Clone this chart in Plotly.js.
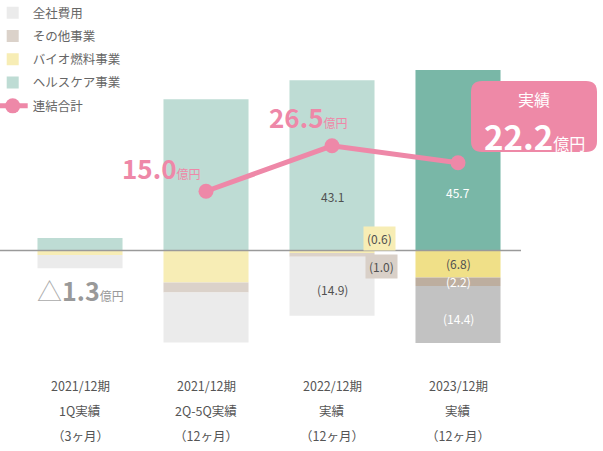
<!DOCTYPE html>
<html><head><meta charset="utf-8">
<script src="https://cdn.plot.ly/plotly-3.0.1.min.js"></script>
<style>html,body{margin:0;padding:0;background:#fff}#chart{width:603px;height:451px}</style>
</head><body><div id="chart"></div>
<script>
// ---- data ----
const categories = ['2021/12期 1Q実績', '2021/12期 2Q-5Q実績', '2022/12期 実績', '2023/12期 実績'];
const periodLabels = ['2021/12期', '2021/12期', '2022/12期', '2023/12期'];
const basisLabels = ['1Q実績', '2Q-5Q実績', '実績', '実績'];
const monthLabels = ['（3ヶ月）', '（12ヶ月）', '（12ヶ月）', '（12ヶ月）'];
const healthcare = [3.2, 38.3, 43.1, 45.7];
const biofuel = [-1.1, -8.1, -0.6, -6.8];
const otherBiz = [0, -2.5, -1.0, -2.2];
const corporate = [-3.4, -12.7, -14.9, -14.4];
const consolidated = [-1.3, 15.0, 26.5, 22.2];
const seriesNames = ['全社費用', 'その他事業', 'バイオ燃料事業', 'ヘルスケア事業', '連結合計'];

// ---- styles ----
const FONT = '"Noto Sans CJK JP", "Noto Sans", sans-serif';
const healthColors = ['#BEDCD4', '#BEDCD4', '#BEDCD4', '#79B7A7'];
const bioColors = ['#F7EDB5', '#F7EDB5', '#F7EDB5', '#F0E088'];
const otherColors = ['#DBD2CA', '#DBD2CA', '#DBD2CA', '#BDAE9F'];
const corpColors = ['#EBEBEB', '#EBEBEB', '#EBEBEB', '#C2C2C2'];
const PINK = '#EE88A8';

function bar(name, vals, colors, rank) {
  return {type: 'bar', x: categories, y: vals, name: name, legendrank: rank,
    legendgroup: name, marker: {color: colors, line: {width: 0}}, hoverinfo: 'none'};
}
const traces = [
  bar(seriesNames[3], healthcare, healthColors, 4),
  bar(seriesNames[2], biofuel, bioColors, 3),
  bar(seriesNames[1], otherBiz, otherColors, 2),
  bar(seriesNames[0], corporate, corpColors, 1),
  {type: 'scatter', mode: 'lines+markers', x: categories.slice(1), y: consolidated.slice(1),
   name: seriesNames[4], legendrank: 5, legendgroup: 'line',
   line: {color: PINK, width: 5}, marker: {color: PINK, size: 15}, hoverinfo: 'none'}
];

const fmtNeg = v => '(' + Math.abs(v).toFixed(1) + ')';
const ann = [];
// x axis labels (three lines)
categories.forEach((c, i) => {
  [periodLabels[i], basisLabels[i], monthLabels[i]].forEach((t, k) => {
    ann.push({x: c, y: 0, xref: 'x', yref: 'paper', yanchor: 'middle', yshift: -25 - 25 * k,
      text: t, showarrow: false, font: {family: FONT, size: 12.5, color: '#555'}});
  });
});
// value labels on bars 3 and 4
const darkTxt = '#505050';
ann.push({x: categories[2], y: healthcare[2] * 0.32, text: healthcare[2].toFixed(1), showarrow: false,
  font: {family: FONT, size: 12, color: darkTxt}});
ann.push({x: categories[3], y: healthcare[3] * 0.32, text: healthcare[3].toFixed(1), showarrow: false,
  font: {family: FONT, size: 12, color: '#fff'}});
// bar 3 negatives
ann.push({x: categories[2], y: biofuel[2] + otherBiz[2] + corporate[2] / 2 - 0.8, text: fmtNeg(corporate[2]), showarrow: false,
  font: {family: FONT, size: 12, color: darkTxt}});
ann.push({x: categories[2], y: 0, yshift: 12, xshift: 47, text: fmtNeg(biofuel[2]), showarrow: false,
  bgcolor: '#F7EDB5', borderpad: 3, font: {family: FONT, size: 12, color: darkTxt}});
ann.push({x: categories[2], y: 0, yshift: -16, xshift: 49, text: fmtNeg(otherBiz[2]), showarrow: false,
  bgcolor: '#D9D0C8', borderpad: 3, font: {family: FONT, size: 12, color: darkTxt}});
// bar 4 negatives
ann.push({x: categories[3], y: biofuel[3] / 2, text: fmtNeg(biofuel[3]), showarrow: false,
  font: {family: FONT, size: 12, color: darkTxt}});
ann.push({x: categories[3], y: biofuel[3] + otherBiz[3] / 2, text: fmtNeg(otherBiz[3]), showarrow: false,
  font: {family: FONT, size: 12, color: '#fff'}});
ann.push({x: categories[3], y: biofuel[3] + otherBiz[3] + corporate[3] / 2 - 1, text: fmtNeg(corporate[3]), showarrow: false,
  font: {family: FONT, size: 12, color: '#fff'}});
// total labels
const unit = () => '<span style="font-size:12px">億円</span>';
ann.push({x: categories[0], y: consolidated[0], yshift: -34, showarrow: false,
  text: '<span style="font-weight:300;color:#aaa">△</span><b>' + Math.abs(consolidated[0]).toFixed(1) + '</b>' + unit(),
  font: {family: FONT, size: 25, color: '#999'}});
ann.push({x: categories[1], y: consolidated[1], xshift: -45, yshift: 24, showarrow: false,
  text: '<b>' + consolidated[1].toFixed(1) + '</b>' + unit(), font: {family: FONT, size: 26, color: PINK}});
ann.push({x: categories[2], y: consolidated[2], xshift: -24, yshift: 29, showarrow: false,
  text: '<b>' + consolidated[2].toFixed(1) + '</b>' + unit(), font: {family: FONT, size: 26, color: PINK}});
// callout text
ann.push({x: categories[3], y: consolidated[3], xshift: 76, yshift: 64, showarrow: false,
  text: '実績', font: {family: FONT, size: 16, color: '#fff'}});
ann.push({x: categories[3], y: consolidated[3], xshift: 76, yshift: 27, showarrow: false,
  text: '<b>' + consolidated[3].toFixed(1) + '</b><span style="font-size:16px">億円</span>',
  font: {family: FONT, size: 33, color: '#fff'}});

// rounded callout box in paper coords
const W = 521, H = 360;
function roundRect(x0, y0, x1, y1, r) {
  const X = px => (px / W).toFixed(4), Y = py => (1 - py / H).toFixed(4);
  return `M${X(x0 + r)},${Y(y0)} L${X(x1 - r)},${Y(y0)} Q${X(x1)},${Y(y0)} ${X(x1)},${Y(y0 + r)} ` +
    `L${X(x1)},${Y(y1 - r)} Q${X(x1)},${Y(y1)} ${X(x1 - r)},${Y(y1)} L${X(x0 + r)},${Y(y1)} ` +
    `Q${X(x0)},${Y(y1)} ${X(x0)},${Y(y1 - r)} L${X(x0)},${Y(y0 + r)} Q${X(x0)},${Y(y0)} ${X(x0 + r)},${Y(y0)} Z`;
}
const shapes = [
  {type: 'line', xref: 'paper', yref: 'y', x0: 0, x1: 1, y0: 0, y1: 0, layer: 'above',
   line: {color: '#9a9a9a', width: 1.5}},
  {type: 'path', xref: 'paper', yref: 'paper', path: roundRect(471, 81, 597, 152, 11),
   fillcolor: '#EE89A7', line: {width: 0}, layer: 'above'}
];

const layout = {
  width: 603, height: 451,
  margin: {l: 0, r: 82, t: 0, b: 91, autoexpand: false},
  paper_bgcolor: '#fff', plot_bgcolor: '#fff',
  barmode: 'relative', bargap: 0.325,
  font: {family: FONT, color: '#666'},
  xaxis: {type: 'category', range: [-0.635, 3.5], showticklabels: false, showgrid: false,
    zeroline: false, showline: false, ticks: ''},
  yaxis: {range: [-27.7, 63.4], showticklabels: false, showgrid: false, zeroline: false,
    showline: false, ticks: ''},
  showlegend: true,
  legend: {x: -0.014, y: 1.005, xanchor: 'left', yanchor: 'top', bgcolor: 'rgba(0,0,0,0)',
    traceorder: 'grouped', tracegroupgap: 4, font: {family: FONT, size: 12.5, color: '#666'}},
  annotations: ann,
  shapes: shapes
};
Plotly.newPlot('chart', traces, layout, {displayModeBar: false, staticPlot: true});
</script></body></html>
